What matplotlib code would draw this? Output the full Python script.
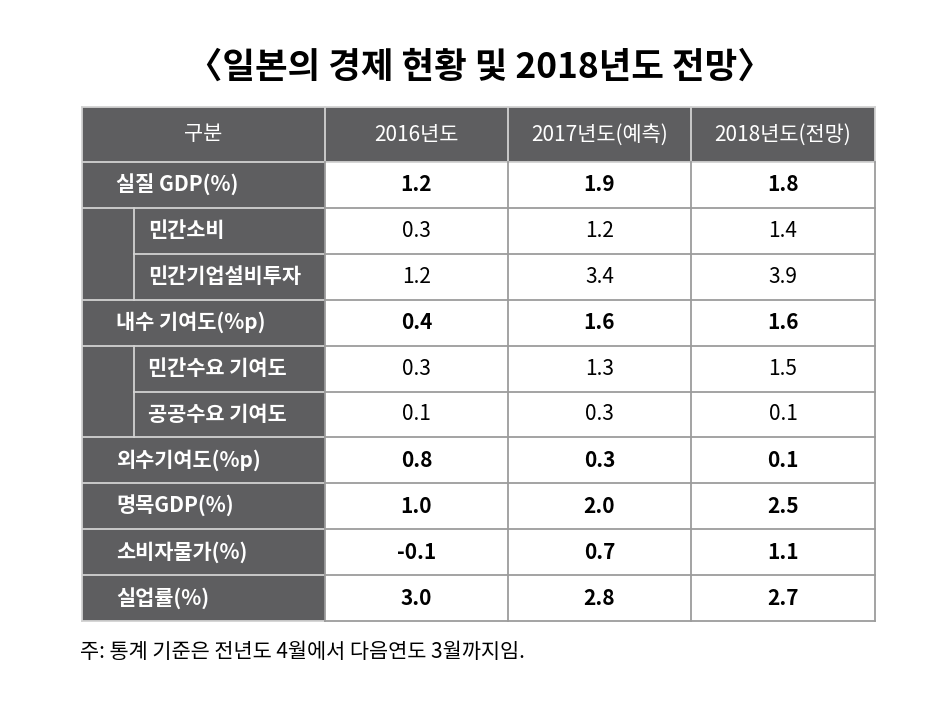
import matplotlib
matplotlib.use("Agg")
import matplotlib.pyplot as plt
from matplotlib.patches import Rectangle

plt.rcParams['font.family'] = ['Noto Sans CJK KR', 'DejaVu Sans']

# === 데이터 ===
title = "〈일본의 경제 현황 및 2018년도 전망〉"
note = "주: 통계 기준은 전년도 4월에서 다음연도 3월까지임."
header = ["구분", "2016년도", "2017년도(예측)", "2018년도(전망)"]
row_labels = ["실질 GDP(%)", "민간소비", "민간기업설비투자", "내수 기여도(%p)",
              "민간수요 기여도", "공공수요 기여도", "외수기여도(%p)",
              "명목GDP(%)", "소비자물가(%)", "실업률(%)"]
row_level = [0, 1, 1, 0, 1, 1, 0, 0, 0, 0]
v2016 = [1.2, 0.3, 1.2, 0.4, 0.3, 0.1, 0.8, 1.0, -0.1, 3.0]
v2017 = [1.9, 1.2, 3.4, 1.6, 1.3, 0.3, 0.3, 2.0, 0.7, 2.8]
v2018 = [1.8, 1.4, 3.9, 1.6, 1.5, 0.1, 0.1, 2.5, 1.1, 2.7]

# === 레이아웃 (픽셀 단위) ===
col_x = [82, 325, 508, 691, 875]
stub_x = 134
head_top, head_bot = 107, 162
row_h = 45.9
gray = '#5e5e60'
line_light = '#d2d2d2'
line_dark = '#9c9c9c'

fig = plt.figure(figsize=(9.49, 7.21), dpi=100)
ax = fig.add_axes([0, 0, 1, 1])
ax.set_xlim(0, 949)
ax.set_ylim(721, 0)
ax.axis('off')

n = len(row_labels)
table_bot = head_bot + n * row_h

# 배경
ax.add_patch(Rectangle((col_x[0], head_top), col_x[-1] - col_x[0], head_bot - head_top,
                       facecolor=gray, edgecolor='none'))
ax.add_patch(Rectangle((col_x[0], head_bot), col_x[1] - col_x[0], table_bot - head_bot,
                       facecolor=gray, edgecolor='none'))

# 제목
ax.text(480, 67, title, ha='center', va='center', fontsize=25.5, weight='bold', color='black')

# 헤더
for i, h in enumerate(header):
    ax.text((col_x[i] + col_x[i + 1]) / 2, (head_top + head_bot) / 2, h,
            ha='center', va='center', fontsize=15, color='white')

# 행
values = [v2016, v2017, v2018]
for r in range(n):
    y0 = head_bot + r * row_h
    yc = y0 + row_h / 2
    lx = 116 if row_level[r] == 0 else 148
    ax.text(lx, yc, row_labels[r], ha='left', va='center', fontsize=15,
            color='white', weight='bold')
    for c in range(3):
        ax.text((col_x[c + 1] + col_x[c + 2]) / 2, yc, f"{values[c][r]:.1f}",
                ha='center', va='center', fontsize=15, color='black',
                weight='bold' if row_level[r] == 0 else 'normal')
    # 가로선
    if r > 0:
        left = stub_x if row_level[r] == 1 and row_level[r - 1] == 1 else col_x[0]
        ax.plot([left, col_x[1]], [y0, y0], color=line_light, lw=1.3)
        ax.plot([col_x[1], col_x[-1]], [y0, y0], color=line_dark, lw=1.3)
    # 하위 항목 세로선
    if row_level[r] == 1:
        ax.plot([stub_x, stub_x], [y0, y0 + row_h], color=line_light, lw=1.3)

# 헤더/외곽선
ax.plot([col_x[0], col_x[-1]], [head_top, head_top], color=line_light, lw=1.3)
ax.plot([col_x[0], col_x[1]], [head_bot, head_bot], color=line_light, lw=1.3)
ax.plot([col_x[1], col_x[-1]], [head_bot, head_bot], color=line_light, lw=1.3)
ax.plot([col_x[0], col_x[1]], [table_bot, table_bot], color=line_light, lw=1.3)
ax.plot([col_x[1], col_x[-1]], [table_bot, table_bot], color=line_dark, lw=1.3)
ax.plot([col_x[0], col_x[0]], [head_top, table_bot], color=line_light, lw=1.3)
for x in col_x[1:]:
    ax.plot([x, x], [head_top, head_bot], color=line_light, lw=1.3)
    ax.plot([x, x], [head_bot, table_bot], color=line_dark, lw=1.3)

# 주석
ax.text(80, 652, note, ha='left', va='center', fontsize=15, color='black')

fig.savefig('out.png', dpi=100)
